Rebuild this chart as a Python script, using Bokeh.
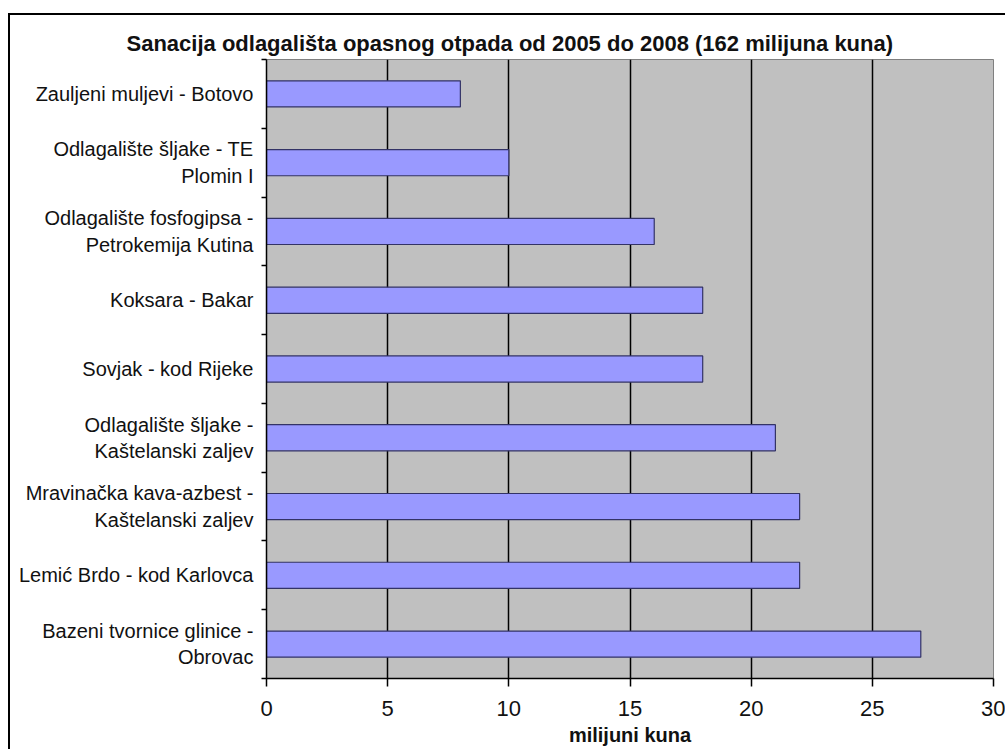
from bokeh.plotting import figure
from bokeh.models import Range1d, LinearAxis, FixedTicker, Title, ColumnDataSource
from bokeh.embed import file_html
from bokeh.resources import INLINE

categories = [
    "Zauljeni muljevi - Botovo",
    "Odlagalište šljake - TE\nPlomin I",
    "Odlagalište fosfogipsa -\nPetrokemija Kutina",
    "Koksara - Bakar",
    "Sovjak - kod Rijeke",
    "Odlagalište šljake -\nKaštelanski zaljev",
    "Mravinačka kava-azbest -\nKaštelanski zaljev",
    "Lemić Brdo - kod Karlovca",
    "Bazeni tvornice glinice -\nObrovac",
]
values = [8, 10, 16, 18, 18, 21, 22, 22, 27]
x_ticks = [0, 5, 10, 15, 20, 25, 30]
title_text = "Sanacija odlagališta opasnog otpada od 2005 do 2008 (162 milijuna kuna)"
x_label = "milijuni kuna"

FONT = "Liberation Sans"

n = len(categories)
centers = [i + 0.5 for i in range(n)]
source = ColumnDataSource(dict(y=centers, v=values))

p = figure(
    width=997, height=736,
    y_range=Range1d(n, 0),
    x_range=Range1d(0, 30),
    output_backend="svg", toolbar_location=None,
    x_axis_location=None, y_axis_location=None,
    min_border_left=256, min_border_right=14, min_border_top=44, min_border_bottom=73,
    styles={"margin-left": "8px", "margin-top": "13px",
            "border-left": "2px solid #000", "border-top": "2px solid #000"},
)
p.title = Title(text=title_text, text_font=FONT, text_font_size="22px", text_font_style="bold",
                align="left", offset=-140, standoff=4, vertical_align="top",
                text_color="#111111")

p.background_fill_color = "#C0C0C0"
p.border_fill_color = "white"
p.outline_line_color = "#808080"
p.outline_line_width = 1

p.hbar(y="y", right="v", left=0, height=0.38, source=source,
       fill_color="#9999FF", line_color="#333366", line_width=1.2)

# empty spacer above the frame, so the title sits higher
spacer = LinearAxis(ticker=FixedTicker(ticks=[]), major_tick_out=12, major_tick_in=0,
                    major_tick_line_color=None, minor_tick_line_color=None,
                    axis_line_color=None, major_label_standoff=0)
p.add_layout(spacer, "above")

# y axis: category labels at the centres, ticks (minor) at the category boundaries
yaxis = LinearAxis(ticker=FixedTicker(ticks=centers, minor_ticks=list(range(n + 1))),
                   major_label_overrides={c: lab for c, lab in zip(centers, categories)},
                   major_tick_line_color=None, major_tick_out=0, major_tick_in=0,
                   minor_tick_out=5, minor_tick_in=0,
                   minor_tick_line_color="black", minor_tick_line_width=1.5,
                   axis_line_color="black", axis_line_width=1.5,
                   major_label_standoff=8,
                   major_label_text_font=FONT, major_label_text_font_size="20px",
                   major_label_text_color="#111111")
p.add_layout(yaxis, "left")

xaxis = LinearAxis(ticker=FixedTicker(ticks=x_ticks), axis_label=x_label,
                   axis_label_text_font=FONT, axis_label_text_font_size="20px",
                   axis_label_text_font_style="bold", axis_label_standoff=5,
                   major_label_text_font=FONT, major_label_text_font_size="22px",
                   major_label_standoff=14, major_tick_out=8, major_tick_in=0,
                   axis_line_width=1.5, major_tick_line_width=1.5,
                   minor_tick_line_color=None, major_label_text_color="#111111",
                   axis_label_text_color="#111111")
p.add_layout(xaxis, "below")

p.xgrid.ticker = FixedTicker(ticks=x_ticks)
p.xgrid.grid_line_color = "black"
p.xgrid.grid_line_width = 1.5
p.ygrid.grid_line_color = None
p.grid.level = "underlay"

open("out.html", "w").write(file_html(p, INLINE))
